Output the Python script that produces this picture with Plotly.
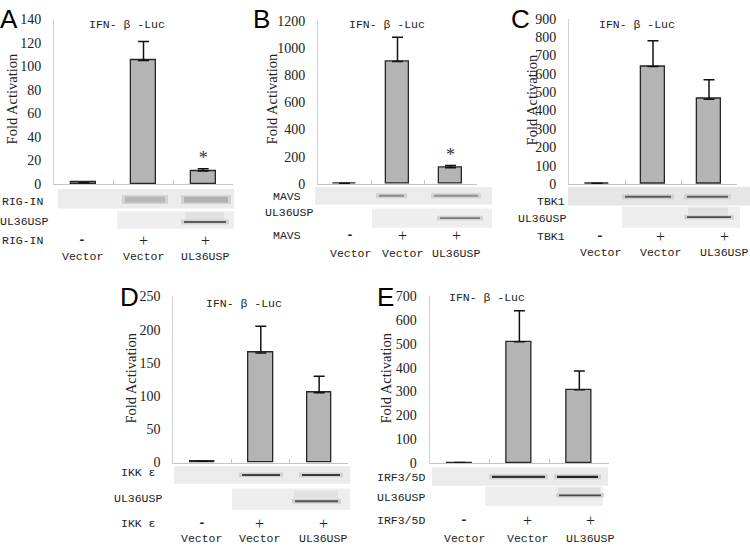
import plotly.graph_objects as go

W, H = 750, 552

# ---------------- data ----------------
positions = [0, 1, 2]
lane_names = ["Vector", "Vector", "UL36USP"]
lane_signs = ["-", "+", "+"]

A_vals = [1.2, 105, 11]
A_err = [0, 16, 2]
B_vals = [5, 900, 120]
B_err = [0, 178, 17]
C_vals = [4, 640, 462]
C_err = [0, 140, 105]
D_vals = [2, 165, 105]
D_err = [0, 40, 25]
E_vals = [3, 508, 308]
E_err = [0, 130, 78]

A_ticks = [0, 20, 40, 60, 80, 100, 120, 140]
B_ticks = [0, 200, 400, 600, 800, 1000, 1200]
C_ticks = [0, 100, 200, 300, 400, 500, 600, 700, 800, 900]
D_ticks = [0, 50, 100, 150, 200, 250]
E_ticks = [0, 100, 200, 300, 400, 500, 600, 700]

proteins = ["RIG-IN", "MAVS", "TBK1", "IKK ε", "IRF3/5D"]
panel_letters = ["A", "B", "C", "D", "E"]
title_text = "IFN- β -Luc"
ytitle_text = "Fold Activation"
blot2_label = "UL36USP"


def px(x):
    return x / W


def py(y):
    return 1 - y / H


panels = [
    dict(vals=A_vals, err=A_err, ticks=A_ticks, x=(54, 233), y=(182, 12.5), star=True),
    dict(vals=B_vals, err=B_err, ticks=B_ticks, x=(318, 477), y=(182, 14), star=True),
    dict(vals=C_vals, err=C_err, ticks=C_ticks, x=(569, 737), y=(182, 12), star=False),
    dict(vals=D_vals, err=D_err, ticks=D_ticks, x=(173.3, 348.3), y=(468.3, 297.5), star=False),
    dict(vals=E_vals, err=E_err, ticks=E_ticks, x=(429.5, 609.3), y=(469, 297), star=False),
]

fig = go.Figure()
serif = "Liberation Serif"
mono = "Liberation Mono"

annotations = []
shapes = []

for i, p in enumerate(panels):
    xa = "x" if i == 0 else f"x{i+1}"
    ya = "y" if i == 0 else f"y{i+1}"
    fig.add_trace(go.Bar(
        x=positions, y=p["vals"], xaxis=xa, yaxis=ya, width=0.42,
        marker=dict(color="#b4b4b4", line=dict(color="#262626", width=1.3)),
        error_y=dict(type="data", symmetric=False, array=p["err"],
                     arrayminus=[0, 0, 0], color="#111", thickness=1.5, width=5.5),
        showlegend=False, hoverinfo="skip",
    ))
    if p["star"]:
        fig.add_trace(go.Scatter(
            x=[2], y=[p["vals"][2] + p["err"][2]], xaxis=xa, yaxis=ya,
            mode="text", text=["*"], textposition="top center",
            textfont=dict(family=serif, size=18, color="#333"),
            showlegend=False, hoverinfo="skip",
        ))
    xkey = "xaxis" if i == 0 else f"xaxis{i+1}"
    ykey = "yaxis" if i == 0 else f"yaxis{i+1}"
    fig.update_layout(**{
        xkey: dict(domain=[px(p["x"][0]), px(p["x"][1])], anchor=ya,
                   range=[-0.5, 2.5], tickvals=[-0.5, 0.5, 1.5, 2.5],
                   ticktext=["", "", "", ""], ticks="inside", ticklen=4,
                   tickcolor="#c4c4c4", showline=True, linecolor="#c4c4c4",
                   linewidth=1, showgrid=False, zeroline=False, fixedrange=True),
        ykey: dict(domain=[py(p["y"][0]), py(p["y"][1])], anchor=xa,
                   range=[0, p["ticks"][-1]], tickvals=p["ticks"],
                   showline=True, linecolor="#d0d0d0", linewidth=1,
                   ticks="", ticklabelstandoff=9, showgrid=False, zeroline=False,
                   tickfont=dict(family=serif, size=14, color="#222"),
                   fixedrange=True),
    })


def txt(x, y, s, size=11.5, family=mono, xanchor="center", color="#222", angle=0):
    annotations.append(dict(x=px(x), y=py(y), xref="paper", yref="paper",
                            text=s, showarrow=False, xanchor=xanchor,
                            yanchor="middle", textangle=angle, borderpad=0,
                            font=dict(family=family, size=size, color=color)))


def rect(x0, y0, x1, y1, color, opacity=1.0):
    shapes.append(dict(type="rect", xref="paper", yref="paper",
                       x0=px(x0), x1=px(x1), y0=py(y1), y1=py(y0),
                       fillcolor=color, opacity=opacity, line=dict(width=0),
                       layer="below"))


def band(x0, x1, yc, dark, h=3):
    rect(x0 - 1, yc - h / 2 - 1.5, x1 + 1, yc + h / 2 + 1.5, "#c8c8c8", 0.7)
    rect(x0 + 2, yc - h / 2, x1 - 2, yc + h / 2, dark, 1)


letters_pos = [(9, 12), (261, 12), (520, 12), (129, 298), (385, 298)]
titles_pos = [(127, 18), (387, 18), (637, 18), (244, 305), (487, 299)]
ytitle_pos = [(12, 95), (272, 95), (532, 96), (131, 382), (386, 382)]
for i in range(5):
    txt(*letters_pos[i], panel_letters[i], size=26, family="Liberation Sans", color="#000")
    txt(*titles_pos[i], title_text, size=11.5, family=mono)
    txt(*ytitle_pos[i], ytitle_text, size=14.5, family=serif, angle=-90)

# western blot strips (decoration)
# A
rect(58, 187, 234, 207, "#ebebeb")
band(123, 167, 198, "#b8b8b8", h=6)
band(182, 230, 198, "#b0b0b0", h=6)
rect(117, 210, 234, 228, "#eeeeee")
rect(186, 211, 224, 219, "#e0e0e0")
band(182, 228, 221, "#5a5a5a", h=2)
# B
rect(315, 185, 492, 203, "#ebebeb")
band(377, 406, 194, "#8a8a8a", h=2)
band(432, 480, 194, "#8e8e8e", h=2)
rect(372, 207, 492, 227, "#eeeeee")
band(438, 482, 217, "#777777", h=2)
# C
rect(568, 185, 750, 204, "#e6e6e6")
band(623, 673, 195, "#5a5a5a", h=2)
band(685, 730, 195, "#5e5e5e", h=2)
rect(622, 205, 740, 227, "#eeeeee")
rect(688, 206, 728, 213, "#e0e0e0")
band(685, 733, 216, "#4a4a4a", h=2)
# D
rect(174, 472, 350, 490, "#ebebeb")
band(240, 282, 481, "#404040", h=2)
band(300, 342, 481, "#383838", h=2)
rect(232, 495, 350, 517, "#eeeeee")
rect(294, 497, 338, 505, "#e2e2e2")
band(293, 340, 508, "#505050", h=2)
# E
rect(432, 473, 608, 492, "#ebebeb")
band(490, 547, 483, "#333333", h=2.5)
band(555, 600, 483, "#262626", h=2.5)
rect(485, 493, 603, 513, "#eeeeee")
rect(558, 494, 600, 499, "#dedede")
band(557, 603, 502, "#484848", h=2)

# blot labels
label_rows = [
    dict(p=proteins[0], r=44, y1=200, r2=49, y2=220, y3=240, xs=[82, 143, 205], yv=256),
    dict(p=proteins[1], r=302, y1=195, r2=314, y2=211, y3=235, xs=[350, 402, 456], yv=253),
    dict(p=proteins[2], r=566, y1=200, r2=567, y2=217, y3=236, xs=[600, 660, 724], yv=252),
    dict(p=proteins[3], r=157, y1=478, r2=163, y2=505, y3=531, xs=[202, 259, 323], yv=546.5),
    dict(p=proteins[4], r=426, y1=484, r2=426, y2=504, y3=528, xs=[464, 527, 590], yv=546),
]
for lr in label_rows:
    txt(lr["r"], lr["y1"], lr["p"], xanchor="right")
    txt(lr["r2"], lr["y2"], blot2_label, xanchor="right")
    txt(lr["r"], lr["y3"], lr["p"], xanchor="right")
    for k in range(3):
        if lane_signs[k] == "-":
            txt(lr["xs"][k], lr["y3"], "<b>-</b>", size=13)
        else:
            txt(lr["xs"][k], lr["y3"], lane_signs[k], size=16, family=serif)
        txt(lr["xs"][k], lr["yv"], lane_names[k])

fig.update_layout(
    width=W, height=H, margin=dict(l=0, r=0, t=0, b=0),
    paper_bgcolor="white", plot_bgcolor="rgba(0,0,0,0)",
    annotations=annotations, shapes=shapes, bargap=0,
)

fig.write_html(
    "out.html",
    config={"displayModeBar": False},
    post_script="document.body.style.margin='0px';document.body.style.overflow='hidden';",
)
